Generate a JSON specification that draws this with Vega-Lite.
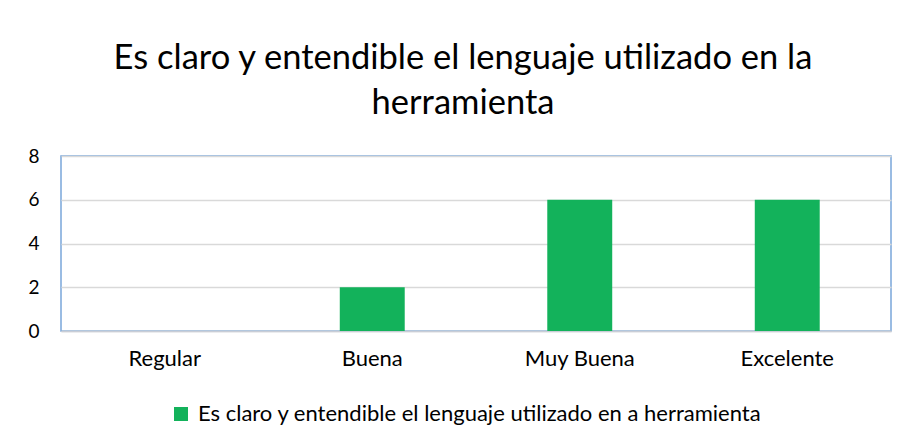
{
  "$schema": "https://vega.github.io/schema/vega-lite/v6.json",
  "width": 830,
  "height": 175,
  "autosize": "none",
  "padding": {"left": 61, "top": 156, "right": 15, "bottom": 114},
  "background": "white",
  "title": {
    "text": ["Es claro y entendible el lenguaje utilizado en la", "herramienta"],
    "fontSize": 34.5,
    "font": "Lato",
    "fontWeight": "normal",
    "color": "#000000",
    "anchor": "middle",
    "frame": "group",
    "dx": -13,
    "offset": 26,
    "lineHeight": 45
  },
  "data": {
    "values": [
      {"categoria": "Regular", "valor": 0, "serie": "Es claro y entendible el lenguaje utilizado en a herramienta"},
      {"categoria": "Buena", "valor": 2, "serie": "Es claro y entendible el lenguaje utilizado en a herramienta"},
      {"categoria": "Muy Buena", "valor": 6, "serie": "Es claro y entendible el lenguaje utilizado en a herramienta"},
      {"categoria": "Excelente", "valor": 6, "serie": "Es claro y entendible el lenguaje utilizado en a herramienta"}
    ]
  },
  "mark": {"type": "bar"},
  "encoding": {
    "x": {
      "field": "categoria",
      "type": "nominal",
      "sort": ["Regular", "Buena", "Muy Buena", "Excelente"],
      "scale": {"paddingInner": 0.687, "paddingOuter": 0.3435},
      "axis": {
        "title": null,
        "labelAngle": 0,
        "labelFont": "Lato",
        "labelFontSize": 22,
        "labelColor": "#000000",
        "labelPadding": 17,
        "ticks": false,
        "domain": true,
        "domainColor": "#c9cdd6",
        "domainWidth": 1.5
      }
    },
    "y": {
      "field": "valor",
      "type": "quantitative",
      "scale": {"domain": [0, 8]},
      "axis": {
        "title": null,
        "values": [0, 2, 4, 6, 8],
        "labelFont": "Lato",
        "labelFontSize": 19,
        "labelColor": "#000000",
        "labelPadding": 22,
        "ticks": false,
        "domain": false,
        "grid": true,
        "gridColor": "#d9d9d9",
        "gridWidth": 1.5
      }
    },
    "color": {
      "field": "serie",
      "type": "nominal",
      "scale": {"range": ["#13B25B"]},
      "legend": {
        "title": null,
        "orient": "none",
        "legendX": 109,
        "legendY": 247,
        "direction": "horizontal",
        "symbolType": "square",
        "symbolSize": 196,
        "symbolStrokeWidth": 0,
        "labelFont": "Lato",
        "labelFontSize": 22,
        "labelColor": "#000000",
        "labelOffset": 6,
        "labelLimit": 800
      }
    }
  },
  "config": {
    "view": {"stroke": "#79A6DA", "strokeWidth": 1.5}
  }
}
